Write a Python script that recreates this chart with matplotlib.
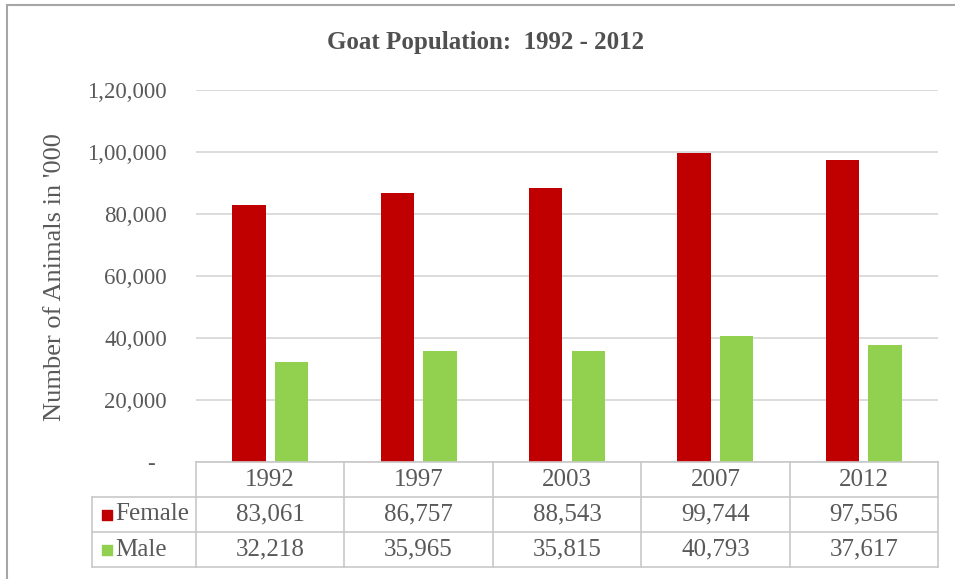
import numpy as np
import matplotlib.pyplot as plt
import matplotlib.transforms as mtransforms
from matplotlib.patches import Rectangle
from matplotlib.ticker import FuncFormatter

years = ['1992', '1997', '2003', '2007', '2012']
female = [83061, 86757, 88543, 99744, 97556]
male = [32218, 35965, 35815, 40793, 37617]
y_ticks = [0, 20000, 40000, 60000, 80000, 100000, 120000]

red = '#C00000'
green = '#92D050'
txt = '#595959'
grid_col = '#D9D9D9'
tab_col = '#C8C8C8'

plt.rcParams['font.family'] = ['Liberation Serif', 'DejaVu Serif']


def indian(v, pos=None):
    # lakh style grouping: 1,20,000
    if v == 0:
        return '-  '
    s = str(int(round(v)))
    head, tail = s[:-3], s[-3:]
    parts = []
    while len(head) > 2:
        parts.insert(0, head[-2:])
        head = head[:-2]
    if head:
        parts.insert(0, head)
    return ','.join(parts + [tail])


W, H = 955, 579
fig = plt.figure(figsize=(W / 100, H / 100), dpi=100)
ax = fig.add_axes([196 / W, 1 - 462 / H, 742 / W, 372 / H])

# outer frame
fig.add_artist(Rectangle((7 / W, -0.1), 1.2, 1 - 5 / H + 0.1, transform=fig.transFigure,
                         fill=False, edgecolor='#A6A6A6', lw=1.5))

x = np.arange(len(years))
bw = 0.225
off = 0.144
ax.bar(x - off, female, bw, color=red, zorder=2)
ax.bar(x + off, male, bw, color=green, zorder=2)

ax.set_xlim(-0.5, len(years) - 0.5)
ax.set_ylim(0, 120000)
ax.set_yticks(y_ticks)
ax.yaxis.set_major_formatter(FuncFormatter(indian))
ax.set_xticks([])
ax.yaxis.grid(True, color=grid_col, lw=1.3)
ax.set_axisbelow(True)
for s in ax.spines.values():
    s.set_visible(False)
ax.tick_params(axis='y', length=0, pad=21, labelsize=16.5, labelcolor=txt)

fig.text(486 / W, 1 - 42 / H, 'Goat Population:  1992 - 2012', ha='center', va='center',
         fontsize=18, fontweight='bold', color='#505050')
fig.text(55 / W, 1 - 277 / H, "Number of Animals in '000", rotation=90, ha='center',
         va='center', fontsize=19, color=txt)

# data table under the axis
trans = mtransforms.blended_transform_factory(ax.transData, ax.transAxes)
h = 35 / 372
left = -0.5 - 104 / 148.4
right = len(years) - 0.5
kw = dict(transform=trans, clip_on=False, color=tab_col, lw=1.2)
ax.plot([-0.5, right], [0, 0], **kw)
for r in (1, 2, 3):
    ax.plot([left, right], [-r * h, -r * h], **kw)
for k in range(len(years) + 1):
    ax.plot([k - 0.5, k - 0.5], [0, -3 * h], **kw)
ax.plot([left, left], [-h, -3 * h], **kw)

cell = dict(transform=trans, ha='center', va='center', fontsize=18, color=txt, clip_on=False)
for i, yr in enumerate(years):
    ax.text(i, -0.5 * h, yr, **cell)
    ax.text(i, -1.5 * h, indian(female[i]), **cell)
    ax.text(i, -2.5 * h, indian(male[i]), **cell)

for r, (name, col) in enumerate([('Female', red), ('Male', green)]):
    yc = -(1.5 + r) * h
    ax.scatter([-0.5 - 89 / 148.4], [yc], s=50, marker='s', color=col, transform=trans,
               clip_on=False)
    ax.text(-0.5 - 81 / 148.4, yc, name, transform=trans, ha='left', va='center',
            fontsize=18, color=txt, clip_on=False)

fig.savefig('out.png', dpi=100, facecolor='white')
